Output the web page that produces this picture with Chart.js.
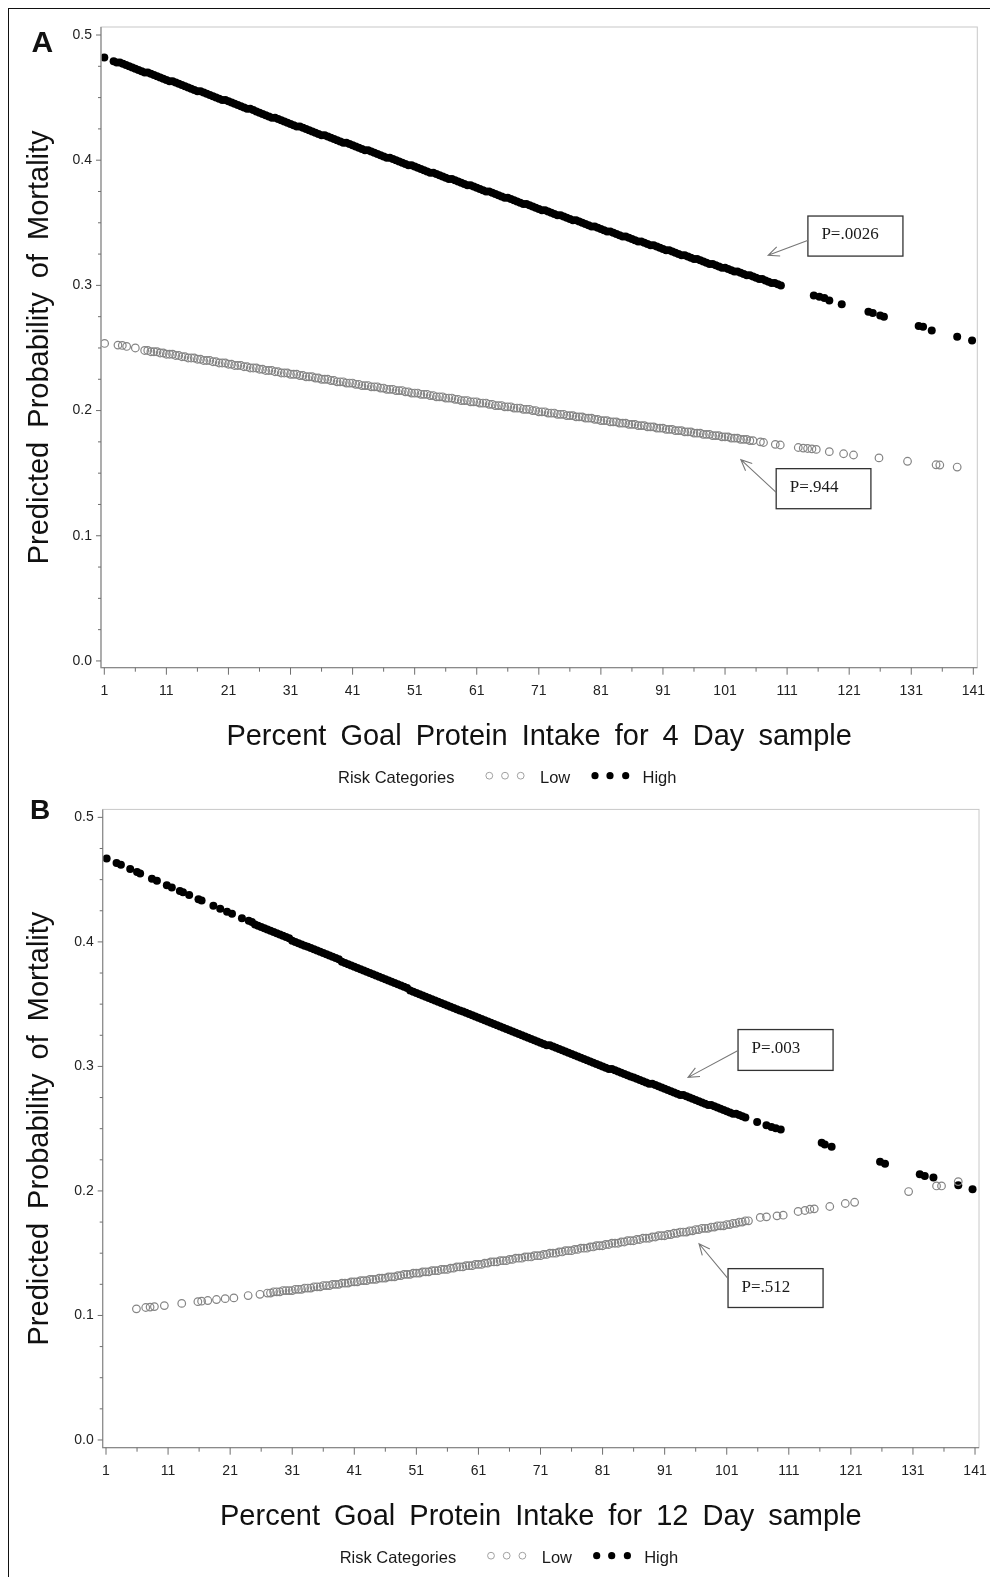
<!DOCTYPE html>
<html lang="en">
<head>
<meta charset="UTF-8" />
<title>Predicted Probability of Mortality</title>
<script src="https://cdn.jsdelivr.net/npm/chart.js"></script>
<style>
  html, body { margin: 0; padding: 0; background: #fff; }
  body { position: relative; width: 990px; height: 1577px; overflow: hidden; }
  #frame {
    position: absolute; left: 8px; top: 8px; right: 0; bottom: 0;
    border-left: 1.5px solid #111; border-top: 1.5px solid #111;
  }
  canvas { position: absolute; left: 0; }
  #panelA { top: 0; }
  #panelB { top: 792px; }
</style>
</head>
<body>
<div id="frame"></div>
<canvas id="panelA" width="990" height="792"></canvas>
<canvas id="panelB" width="990" height="785"></canvas>
<script>
// axis ticks
const xMajorTicks = [1, 11, 21, 31, 41, 51, 61, 71, 81, 91, 101, 111, 121, 131, 141];
const xMinorTicks = [6, 16, 26, 36, 46, 56, 66, 76, 86, 96, 106, 116, 126, 136];
const yMajorTicks = [0, 0.1, 0.2, 0.3, 0.4, 0.5];
const yMinorTicks = [0.025, 0.05, 0.075, 0.125, 0.15, 0.175, 0.225, 0.25, 0.275,
  0.325, 0.35, 0.375, 0.425, 0.45, 0.475];

// Panel A: 4 day sample, High risk
const highA_x = [1,
  2.5,3,3.5,4,4.5,5,5.5,6,6.5,7,7.5,8,8.5,9,9.5,10,10.5,11,
  11.5,12,12.5,13,13.5,14,14.5,15,15.5,16,16.5,17,17.5,18,18.5,19,19.5,20,20.5,21,
  21.5,22,22.5,23,23.5,24,24.5,25,25.5,26,26.5,27,27.5,28,28.5,29,29.5,30,30.5,31,
  31.5,32,32.5,33,33.5,34,34.5,35,35.5,36,36.5,37,37.5,38,38.5,39,39.5,40,40.5,41,
  41.5,42,42.5,43,43.5,44,44.5,45,45.5,46,46.5,47,47.5,48,48.5,49,49.5,50,50.5,51,
  51.5,52,52.5,53,53.5,54,54.5,55,55.5,56,56.5,57,57.5,58,58.5,59,59.5,60,60.5,61,
  61.5,62,62.5,63,63.5,64,64.5,65,65.5,66,66.5,67,67.5,68,68.5,69,69.5,70,70.5,71,
  71.5,72,72.5,73,73.5,74,74.5,75,75.5,76,76.5,77,77.5,78,78.5,79,79.5,80,80.5,81,
  81.5,82,82.5,83,83.5,84,84.5,85,85.5,86,86.5,87,87.5,88,88.5,89,89.5,90,90.5,91,
  91.5,92,92.5,93,93.5,94,94.5,95,95.5,96,96.5,97,97.5,98,98.5,99,99.5,100,100.5,101,
  101.5,102,102.5,103,103.5,104,104.5,105,105.5,106,106.5,107,107.5,108,108.5,109,109.5,110,
  115.3,116.2,117,117.8,119.8,124.1,124.8,126,126.6,132.2,132.9,134.3,138.4,140.8];
const highA_y = [0.482,
  0.479,0.478,0.478,0.477,0.476,0.475,0.474,0.473,0.472,0.471,0.470,0.470,0.469,0.468,0.467,0.466,0.465,0.464,
  0.463,0.463,0.462,0.461,0.460,0.459,0.458,0.457,0.456,0.455,0.455,0.454,0.453,0.452,0.451,0.450,0.449,0.448,0.448,0.447,
  0.446,0.445,0.444,0.443,0.442,0.441,0.441,0.440,0.439,0.438,0.437,0.436,0.435,0.434,0.434,0.433,0.432,0.431,0.430,0.429,
  0.428,0.427,0.427,0.426,0.425,0.424,0.423,0.422,0.421,0.420,0.420,0.419,0.418,0.417,0.416,0.415,0.414,0.414,0.413,0.412,
  0.411,0.410,0.409,0.408,0.408,0.407,0.406,0.405,0.404,0.403,0.402,0.402,0.401,0.400,0.399,0.398,0.397,0.396,0.396,0.395,
  0.394,0.393,0.392,0.391,0.390,0.390,0.389,0.388,0.387,0.386,0.385,0.385,0.384,0.383,0.382,0.381,0.380,0.380,0.379,0.378,
  0.377,0.376,0.375,0.375,0.374,0.373,0.372,0.371,0.370,0.370,0.369,0.368,0.367,0.366,0.365,0.365,0.364,0.363,0.362,0.361,
  0.360,0.360,0.359,0.358,0.357,0.356,0.356,0.355,0.354,0.353,0.352,0.352,0.351,0.350,0.349,0.348,0.347,0.347,0.346,0.345,
  0.344,0.343,0.343,0.342,0.341,0.340,0.339,0.339,0.338,0.337,0.336,0.335,0.335,0.334,0.333,0.332,0.332,0.331,0.330,0.329,
  0.328,0.328,0.327,0.326,0.325,0.324,0.324,0.323,0.322,0.321,0.321,0.320,0.319,0.318,0.317,0.317,0.316,0.315,0.314,0.314,
  0.313,0.312,0.311,0.311,0.310,0.309,0.308,0.308,0.307,0.306,0.305,0.305,0.304,0.303,0.302,0.302,0.301,0.300,
  0.292,0.291,0.290,0.288,0.285,0.279,0.278,0.276,0.275,0.2675,0.267,0.264,0.259,0.256];

// Panel A: 4 day sample, Low risk
const lowA_x = [1.05,3.2,3.9,4.6,6,
  7.5,8,8.5,9,9.5,10,10.5,11,
  11.5,12,12.5,13,13.5,14,14.5,15,15.5,16,16.5,17,17.5,18,18.5,19,19.5,20,20.5,21,
  21.5,22,22.5,23,23.5,24,24.5,25,25.5,26,26.5,27,27.5,28,28.5,29,29.5,30,30.5,31,
  31.5,32,32.5,33,33.5,34,34.5,35,35.5,36,36.5,37,37.5,38,38.5,39,39.5,40,40.5,41,
  41.5,42,42.5,43,43.5,44,44.5,45,45.5,46,46.5,47,47.5,48,48.5,49,49.5,50,50.5,51,
  51.5,52,52.5,53,53.5,54,54.5,55,55.5,56,56.5,57,57.5,58,58.5,59,59.5,60,60.5,61,
  61.5,62,62.5,63,63.5,64,64.5,65,65.5,66,66.5,67,67.5,68,68.5,69,69.5,70,70.5,71,
  71.5,72,72.5,73,73.5,74,74.5,75,75.5,76,76.5,77,77.5,78,78.5,79,79.5,80,80.5,81,
  81.5,82,82.5,83,83.5,84,84.5,85,85.5,86,86.5,87,87.5,88,88.5,89,89.5,90,90.5,91,
  91.5,92,92.5,93,93.5,94,94.5,95,95.5,96,96.5,97,97.5,98,98.5,99,99.5,100,100.5,101,
  101.5,102,102.5,103,103.5,104,104.5,105,105.5,
  106.7,107.2,109.1,109.9,112.8,113.6,114.3,115,115.7,117.8,120.1,121.7,125.8,130.4,135,135.6,138.4];
const lowA_y = [0.2536,0.2523,0.252,0.2512,0.250,
  0.248,0.248,0.247,0.247,0.247,0.246,0.246,0.245,
  0.245,0.245,0.244,0.244,0.243,0.243,0.242,0.242,0.242,0.241,0.241,0.240,0.240,0.240,0.239,0.239,0.238,0.238,0.238,0.237,
  0.237,0.236,0.236,0.236,0.235,0.235,0.234,0.234,0.234,0.233,0.233,0.232,0.232,0.232,0.231,0.231,0.230,0.230,0.230,0.229,
  0.229,0.229,0.228,0.228,0.227,0.227,0.227,0.226,0.226,0.225,0.225,0.225,0.224,0.224,0.223,0.223,0.223,0.222,0.222,0.222,
  0.221,0.221,0.220,0.220,0.220,0.219,0.219,0.219,0.218,0.218,0.217,0.217,0.217,0.216,0.216,0.216,0.215,0.215,0.214,0.214,
  0.214,0.213,0.213,0.213,0.212,0.212,0.211,0.211,0.211,0.210,0.210,0.210,0.209,0.209,0.208,0.208,0.208,0.207,0.207,0.207,
  0.206,0.206,0.206,0.205,0.205,0.204,0.204,0.204,0.203,0.203,0.203,0.202,0.202,0.202,0.201,0.201,0.201,0.200,0.200,0.199,
  0.199,0.199,0.198,0.198,0.198,0.197,0.197,0.197,0.196,0.196,0.196,0.195,0.195,0.195,0.194,0.194,0.194,0.193,0.193,0.192,
  0.192,0.192,0.191,0.191,0.191,0.190,0.190,0.190,0.189,0.189,0.189,0.188,0.188,0.188,0.187,0.187,0.187,0.186,0.186,0.186,
  0.185,0.185,0.185,0.184,0.184,0.184,0.183,0.183,0.183,0.182,0.182,0.182,0.181,0.181,0.181,0.180,0.180,0.180,0.179,0.179,
  0.179,0.178,0.178,0.178,0.177,0.177,0.177,0.176,0.176,
  0.175,0.1745,0.173,0.1725,0.1705,0.170,0.1697,0.1694,0.169,0.1672,0.1655,0.1645,0.1622,0.1595,0.1567,0.1565,0.1549];

// Panel B: 12 day sample, High risk
const highB_x = [1.1,2.7,3.4,4.9,6,6.5,8.4,9.2,10.8,11.6,12.9,13.4,14.4,15.9,16.4,18.3,19.4,20.5,21.3,22.9,
  24,24.5,25,25.5,26,26.5,27,27.5,28,28.5,29,29.5,30,30.5,31,
  31.5,32,32.5,33,33.5,34,34.5,35,35.5,36,36.5,37,37.5,38,38.5,39,39.5,40,40.5,41,
  41.5,42,42.5,43,43.5,44,44.5,45,45.5,46,46.5,47,47.5,48,48.5,49,49.5,50,50.5,51,
  51.5,52,52.5,53,53.5,54,54.5,55,55.5,56,56.5,57,57.5,58,58.5,59,59.5,60,60.5,61,
  61.5,62,62.5,63,63.5,64,64.5,65,65.5,66,66.5,67,67.5,68,68.5,69,69.5,70,70.5,71,
  71.5,72,72.5,73,73.5,74,74.5,75,75.5,76,76.5,77,77.5,78,78.5,79,79.5,80,80.5,81,
  81.5,82,82.5,83,83.5,84,84.5,85,85.5,86,86.5,87,87.5,88,88.5,89,89.5,90,90.5,91,
  91.5,92,92.5,93,93.5,94,94.5,95,95.5,96,96.5,97,97.5,98,98.5,99,99.5,100,100.5,101,
  101.5,102,102.5,103,103.5,104,
  105.9,107.4,108.2,108.9,109.7,116.3,116.8,117.9,125.7,126.5,132.1,132.9,134.3,138.3,140.6];
const highB_y = [0.467,0.4634,0.4619,0.4586,0.4561,0.455,0.4508,0.4491,0.4455,0.4437,0.4409,0.4398,0.4376,0.4343,0.4332,0.429,0.4266,0.4242,0.4225,0.419,
  0.417,0.416,0.414,0.413,0.412,0.411,0.410,0.409,0.408,0.407,0.406,0.405,0.404,0.403,0.401,
  0.400,0.399,0.398,0.397,0.396,0.395,0.394,0.393,0.392,0.391,0.390,0.389,0.388,0.387,0.386,0.384,0.383,0.382,0.381,0.380,
  0.379,0.378,0.377,0.376,0.375,0.374,0.373,0.372,0.371,0.370,0.369,0.368,0.367,0.366,0.365,0.364,0.363,0.361,0.360,0.359,
  0.358,0.357,0.356,0.355,0.354,0.353,0.352,0.351,0.350,0.349,0.348,0.347,0.346,0.345,0.344,0.343,0.342,0.341,0.340,0.339,
  0.338,0.337,0.336,0.335,0.334,0.333,0.332,0.331,0.330,0.329,0.328,0.327,0.326,0.325,0.324,0.323,0.322,0.321,0.320,0.319,
  0.318,0.317,0.317,0.316,0.315,0.314,0.313,0.312,0.311,0.310,0.309,0.308,0.307,0.306,0.305,0.304,0.303,0.302,0.301,0.300,
  0.299,0.298,0.298,0.297,0.296,0.295,0.294,0.293,0.292,0.291,0.290,0.289,0.288,0.287,0.286,0.286,0.285,0.284,0.283,0.282,
  0.281,0.280,0.279,0.278,0.277,0.277,0.276,0.275,0.274,0.273,0.272,0.271,0.270,0.269,0.269,0.268,0.267,0.266,0.265,0.264,
  0.263,0.262,0.262,0.261,0.260,0.259,
  0.2554,0.2528,0.2514,0.2504,0.2493,0.2387,0.2373,0.2355,0.2235,0.2219,0.2133,0.212,0.2107,0.2045,0.2013];

// Panel B: 12 day sample, Low risk
const lowB_x = [5.9,7.4,8.1,8.8,10.4,13.2,15.8,16.4,17.4,18.8,20.2,21.6,23.9,25.8,
  27,27.5,28,28.5,29,29.5,30,30.5,31,
  31.5,32,32.5,33,33.5,34,34.5,35,35.5,36,36.5,37,37.5,38,38.5,39,39.5,40,40.5,41,
  41.5,42,42.5,43,43.5,44,44.5,45,45.5,46,46.5,47,47.5,48,48.5,49,49.5,50,50.5,51,
  51.5,52,52.5,53,53.5,54,54.5,55,55.5,56,56.5,57,57.5,58,58.5,59,59.5,60,60.5,61,
  61.5,62,62.5,63,63.5,64,64.5,65,65.5,66,66.5,67,67.5,68,68.5,69,69.5,70,70.5,71,
  71.5,72,72.5,73,73.5,74,74.5,75,75.5,76,76.5,77,77.5,78,78.5,79,79.5,80,80.5,81,
  81.5,82,82.5,83,83.5,84,84.5,85,85.5,86,86.5,87,87.5,88,88.5,89,89.5,90,90.5,91,
  91.5,92,92.5,93,93.5,94,94.5,95,95.5,96,96.5,97,97.5,98,98.5,99,99.5,100,100.5,101,
  101.5,102,102.5,103,103.5,104,104.5,
  106.4,107.4,109.1,110.1,112.5,113.6,114.4,115.1,117.6,120.1,121.6,130.3,134.8,135.6,138.3];
const lowB_y = [0.1053,0.1064,0.1067,0.1071,0.1079,0.1097,0.1111,0.1115,0.112,0.1128,0.1135,0.1141,0.116,0.117,
  0.118,0.118,0.119,0.119,0.119,0.120,0.120,0.120,0.120,
  0.121,0.121,0.121,0.122,0.122,0.122,0.123,0.123,0.123,0.124,0.124,0.124,0.125,0.125,0.125,0.126,0.126,0.126,0.127,0.127,
  0.127,0.128,0.128,0.128,0.129,0.129,0.129,0.130,0.130,0.130,0.131,0.131,0.131,0.132,0.132,0.133,0.133,0.133,0.134,0.134,
  0.134,0.135,0.135,0.135,0.136,0.136,0.136,0.137,0.137,0.137,0.138,0.138,0.139,0.139,0.139,0.140,0.140,0.140,0.141,0.141,
  0.141,0.142,0.142,0.143,0.143,0.143,0.144,0.144,0.144,0.145,0.145,0.146,0.146,0.146,0.147,0.147,0.147,0.148,0.148,0.148,
  0.149,0.149,0.150,0.150,0.150,0.151,0.151,0.152,0.152,0.152,0.153,0.153,0.154,0.154,0.154,0.155,0.155,0.156,0.156,0.156,
  0.157,0.157,0.158,0.158,0.158,0.159,0.159,0.160,0.160,0.160,0.161,0.161,0.162,0.162,0.162,0.163,0.163,0.164,0.164,0.164,
  0.165,0.165,0.166,0.166,0.167,0.167,0.167,0.168,0.168,0.169,0.169,0.170,0.170,0.170,0.171,0.171,0.172,0.172,0.172,0.173,
  0.173,0.174,0.174,0.175,0.175,0.176,0.176,
  0.1787,0.1792,0.180,0.1805,0.1835,0.1843,0.1853,0.1856,0.1875,0.1899,0.1909,0.1995,0.204,0.204,0.2075];

const sans = '"Liberation Sans", Arial, Helvetica, sans-serif';
const serif = '"Liberation Serif", "Times New Roman", serif';
const lowColor = '#858585';

function toPoints(xs, ys) {
  if (xs.length !== ys.length) throw new Error('length mismatch ' + xs.length + ' / ' + ys.length);
  return xs.map((x, i) => ({ x: x, y: ys[i] }));
}

// words drawn one by one so the wide SAS word gaps can be kept
function spacedText(ctx, text, cx, y, extra) {
  const words = text.split(' ');
  const gap = ctx.measureText(' ').width + extra;
  const widths = words.map(w => ctx.measureText(w).width);
  const total = widths.reduce((s, w) => s + w, 0) + gap * (words.length - 1);
  let x = cx - total / 2;
  ctx.textAlign = 'left';
  words.forEach((w, i) => { ctx.fillText(w, x, y); x += widths[i] + gap; });
}

function arrow(ctx, x0, y0, x1, y1) {
  const ang = Math.atan2(y1 - y0, x1 - x0), len = 12, spread = 0.42;
  ctx.beginPath();
  ctx.moveTo(x0, y0);
  ctx.lineTo(x1, y1);
  ctx.moveTo(x1 - len * Math.cos(ang - spread), y1 - len * Math.sin(ang - spread));
  ctx.lineTo(x1, y1);
  ctx.lineTo(x1 - len * Math.cos(ang + spread), y1 - len * Math.sin(ang + spread));
  ctx.stroke();
}

const panelDecor = {
  id: 'panelDecor',
  afterDraw(chart, args, o) {
    const ctx = chart.ctx, a = chart.chartArea, sx = chart.scales.x, sy = chart.scales.y;
    ctx.save();

    // plot frame + axis lines
    ctx.lineWidth = 1;
    ctx.strokeStyle = '#c8c8c8';
    ctx.strokeRect(a.left, a.top, a.right - a.left, a.bottom - a.top);
    ctx.strokeStyle = '#8a8a8a';
    ctx.lineWidth = 1.2;
    ctx.beginPath();
    ctx.moveTo(a.left, a.top);
    ctx.lineTo(a.left, a.bottom);
    ctx.lineTo(a.right, a.bottom);
    ctx.stroke();

    // tick marks
    ctx.strokeStyle = '#6e6e6e';
    ctx.lineWidth = 1;
    ctx.beginPath();
    const xt = (vals, len) => vals.forEach(v => {
      const p = sx.getPixelForValue(v);
      ctx.moveTo(p, a.bottom); ctx.lineTo(p, a.bottom + len);
    });
    const yt = (vals, len) => vals.forEach(v => {
      const p = sy.getPixelForValue(v);
      ctx.moveTo(a.left - len, p); ctx.lineTo(a.left, p);
    });
    xt(xMajorTicks, 7); xt(xMinorTicks, 4);
    yt(yMajorTicks, 5); yt(yMinorTicks, 3);
    ctx.stroke();

    // x tick labels
    ctx.fillStyle = '#222';
    ctx.font = '14px ' + sans;
    ctx.textAlign = 'center';
    ctx.textBaseline = 'middle';
    xMajorTicks.forEach(v => ctx.fillText(String(v), sx.getPixelForValue(v), a.bottom + 23.3));

    // P-value boxes
    o.notes.forEach(n => {
      const x0 = sx.getPixelForValue(n.box[0]), y0 = sy.getPixelForValue(n.box[1]);
      const x1 = sx.getPixelForValue(n.box[2]), y1 = sy.getPixelForValue(n.box[3]);
      ctx.strokeStyle = '#333';
      ctx.lineWidth = 1.3;
      ctx.strokeRect(x0, y0, x1 - x0, y1 - y0);
      ctx.fillStyle = '#1a1a1a';
      ctx.font = '17px ' + serif;
      ctx.textAlign = 'left';
      ctx.textBaseline = 'alphabetic';
      ctx.fillText(n.text, x0 + 13.5, y0 + 23);
      ctx.strokeStyle = '#777';
      ctx.lineWidth = 1.1;
      arrow(ctx, sx.getPixelForValue(n.from[0]), sy.getPixelForValue(n.from[1]),
        sx.getPixelForValue(n.to[0]), sy.getPixelForValue(n.to[1]));
    });

    // titles
    ctx.fillStyle = '#111';
    ctx.textBaseline = 'alphabetic';
    ctx.font = '29px ' + sans;
    spacedText(ctx, o.xTitle, (a.left + a.right) / 2, a.bottom + 77.3, 6);
    ctx.save();
    ctx.translate(47.7, (a.top + a.bottom) / 2);
    ctx.rotate(-Math.PI / 2);
    spacedText(ctx, o.yTitle, 0, 0, 6);
    ctx.restore();

    ctx.font = 'bold ' + o.letterSize + 'px ' + sans;
    ctx.textAlign = 'left';
    ctx.fillText(o.letter, o.letterX, o.letterY);

    // legend
    const ly = a.bottom + 115, my = a.bottom + 108;
    ctx.font = '16.5px ' + sans;
    ctx.fillStyle = '#1a1a1a';
    ctx.fillText('Risk Categories', a.left + 237, ly);
    ctx.fillText('Low', a.left + 439, ly);
    ctx.fillText('High', a.left + 541.5, ly);
    ctx.lineWidth = 1;
    ctx.strokeStyle = '#a0a0a0';
    [388.3, 404, 419.7].forEach(dx => {
      ctx.beginPath(); ctx.arc(a.left + dx, my, 3.4, 0, Math.PI * 2); ctx.stroke();
    });
    ctx.fillStyle = '#000';
    [494, 509, 524.7].forEach(dx => {
      ctx.beginPath(); ctx.arc(a.left + dx, my, 3.6, 0, Math.PI * 2); ctx.fill();
    });

    ctx.restore();
  }
};

function makeChart(id, cfg) {
  return new Chart(document.getElementById(id), {
    type: 'scatter',
    data: {
      datasets: [
        {
          label: 'Low',
          data: toPoints(cfg.lowX, cfg.lowY),
          pointRadius: 3.8,
          pointBackgroundColor: 'rgba(0,0,0,0)',
          pointBorderColor: lowColor,
          pointBorderWidth: 1.2
        },
        {
          label: 'High',
          data: toPoints(cfg.highX, cfg.highY),
          pointRadius: 4,
          pointBackgroundColor: '#000',
          pointBorderColor: '#000',
          pointBorderWidth: 0
        }
      ]
    },
    options: {
      responsive: false,
      animation: false,
      devicePixelRatio: 1,
      events: [],
      layout: { padding: cfg.padding, autoPadding: false },
      scales: {
        x: {
          type: 'linear',
          min: 0.468,
          max: 141.64,
          grid: { display: false, drawTicks: false },
          border: { display: false },
          afterBuildTicks: s => { s.ticks = xMajorTicks.map(v => ({ value: v })); },
          afterFit: s => { s.height = 60; },
          ticks: { display: false }
        },
        y: {
          type: 'linear',
          min: cfg.yMin,
          max: 0.5064,
          grid: { display: false, drawTicks: false },
          border: { display: false },
          afterBuildTicks: s => { s.ticks = yMajorTicks.map(v => ({ value: v })); },
          afterFit: s => { s.width = cfg.yAxisWidth; },
          ticks: {
            padding: 9,
            color: '#222', font: { family: sans, size: 14 },
            callback: v => Number(v).toFixed(1)
          }
        }
      },
      plugins: {
        legend: { display: false },
        tooltip: { enabled: false },
        panelDecor: cfg.decor
      }
    },
    plugins: [panelDecor]
  });
}

makeChart('panelA', {
  lowX: lowA_x, lowY: lowA_y, highX: highA_x, highY: highA_y,
  padding: { top: 27, right: 12.7, bottom: 64.3, left: 0 },
  yAxisWidth: 101,
  yMin: -0.0054,
  decor: {
    letter: 'A', letterSize: 30, letterX: 31.5, letterY: 52.3,
    xTitle: 'Percent Goal Protein Intake for 4 Day sample',
    yTitle: 'Predicted Probability of Mortality',
    notes: [
      { text: 'P=.0026', box: [114.35, 0.3554, 129.66, 0.3234], from: [114.4, 0.336], to: [107.95, 0.324] },
      { text: 'P=.944', box: [109.24, 0.1536, 124.5, 0.1216], from: [109.24, 0.1346], to: [103.55, 0.1608] }
    ]
  }
});

makeChart('panelB', {
  lowX: lowB_x, lowY: lowB_y, highX: highB_x, highY: highB_y,
  padding: { top: 15, right: 11, bottom: 69.3, left: 0 },
  yAxisWidth: 102.7,
  yMin: -0.0062,
  decor: {
    letter: 'B', letterSize: 28, letterX: 30, letterY: 27.3,
    xTitle: 'Percent Goal Protein Intake for 12 Day sample',
    yTitle: 'Predicted Probability of Mortality',
    notes: [
      { text: 'P=.003', box: [102.82, 0.3296, 118.13, 0.2968], from: [102.82, 0.3128], to: [94.77, 0.2912] },
      { text: 'P=.512', box: [101.21, 0.1376, 116.52, 0.1064], from: [101.21, 0.1296], to: [96.54, 0.1576] }
    ]
  }
});
</script>
</body>
</html>
